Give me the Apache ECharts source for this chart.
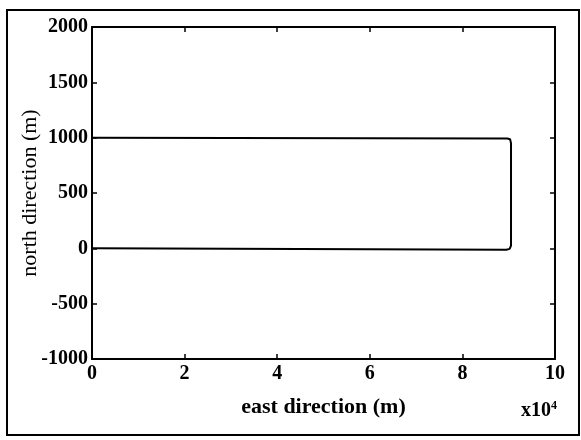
<!DOCTYPE html>
<html>
<head>
<meta charset="utf-8">
<script src="https://cdn.jsdelivr.net/npm/echarts@6/dist/echarts.min.js"></script>
<style>html,body{margin:0;padding:0;background:#fff}#c{width:581px;height:440px}</style>
</head>
<body>
<div id="c"></div>
<script>
// Trajectory (east in units of 1e4 m, north in m)
var eastPath  = [0, 8.95, 9.02, 9.05, 9.05, 9.03, 8.97, 0];
var northPath = [0, -12, -5, 25, 950, 985, 992, 1000];
var xTicks = [0, 2, 4, 6, 8, 10];
var yTicks = [-1000, -500, 0, 500, 1000, 1500, 2000];
var xTitle = 'east direction (m)';
var yTitle = 'north direction (m)';
var xScale = 'x10';
var xScaleExp = '4';

var FONT = '"Liberation Serif","Times New Roman",serif';
var pts = eastPath.map(function (e, i) { return [e, northPath[i]]; });
var chart = echarts.init(document.getElementById('c'), null, {renderer: 'canvas'});
var lab = {color: '#000', fontFamily: FONT, fontWeight: 'bold', fontSize: 20};
var fmt = function (v) { return String(v); };
var axLine = {show: true, onZero: false, lineStyle: {color: '#000', width: 2}};
var tick = {show: true, inside: true, length: 5, lineStyle: {color: '#000', width: 1.5}};
chart.setOption({
  animation: false,
  backgroundColor: '#fff',
  grid: {left: 92, right: 26, top: 27, bottom: 81, containLabel: false},
  xAxis: [{
    type: 'value', min: xTicks[0], max: xTicks[xTicks.length - 1], interval: 2,
    axisLine: axLine, axisTick: tick, splitLine: {show: false},
    axisLabel: Object.assign({margin: 5, formatter: fmt}, lab),
    name: xTitle, nameLocation: 'middle', nameGap: 37, nameMoveOverlap: false,
    nameTextStyle: {color: '#000', fontFamily: FONT, fontWeight: 'bold', fontSize: 22}
  }, {
    type: 'value', position: 'top', min: xTicks[0], max: xTicks[xTicks.length - 1], interval: 2,
    axisLine: axLine, axisTick: tick, splitLine: {show: false}, axisLabel: {show: false}
  }],
  yAxis: [{
    type: 'value', min: yTicks[0], max: yTicks[yTicks.length - 1], interval: 500,
    axisLine: axLine, axisTick: tick, splitLine: {show: false},
    axisLabel: Object.assign({margin: 4, formatter: fmt}, lab),
    name: yTitle, nameLocation: 'middle', nameGap: 51, nameRotate: 90, nameMoveOverlap: false,
    nameTextStyle: {color: '#000', fontFamily: FONT, fontWeight: 'normal', fontSize: 22}
  }, {
    type: 'value', position: 'right', min: yTicks[0], max: yTicks[yTicks.length - 1], interval: 500,
    axisLine: axLine, axisTick: tick, splitLine: {show: false}, axisLabel: {show: false}
  }],
  series: [{
    type: 'line', data: pts, showSymbol: false, smooth: false,
    lineStyle: {color: '#000', width: 2}, xAxisIndex: 0, yAxisIndex: 0
  }],
  graphic: [{
    type: 'rect', shape: {x: 7, y: 10, width: 572, height: 425},
    style: {fill: null, stroke: '#000', lineWidth: 2}, silent: true, z: -1
  }, {
    type: 'text', left: 521, top: 400,
    style: {
      text: '{a|' + xScale + '}{b|' + xScaleExp + '}',
      rich: {
        a: {fontFamily: FONT, fontWeight: 'bold', fontSize: 20, fill: '#000', verticalAlign: 'bottom'},
        b: {fontFamily: FONT, fontWeight: 'bold', fontSize: 12, fill: '#000', verticalAlign: 'top', padding: [0, 0, 9, 0]}
      }
    }
  }]
});
</script>
</body>
</html>
